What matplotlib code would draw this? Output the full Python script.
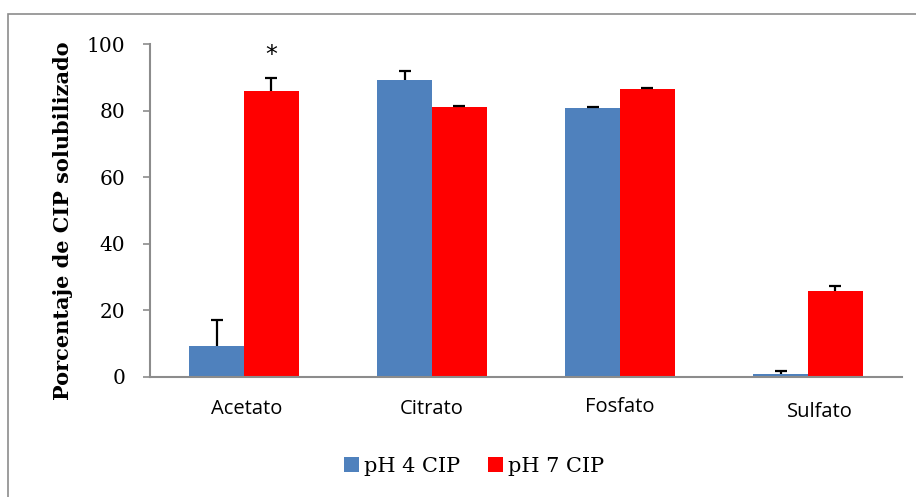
import matplotlib
matplotlib.use("Agg")
import matplotlib.pyplot as plt
from matplotlib.patches import Rectangle
from matplotlib.transforms import ScaledTranslation
import numpy as np

categories = ["Acetato", "Citrato", "Fosfato", "Sulfato"]
ph4_values = [9.3, 89.2, 80.9, 0.9]
ph4_errors = [7.8, 2.8, 0.3, 0.8]
ph7_values = [85.9, 81.1, 86.4, 25.8]
ph7_errors = [3.9, 0.3, 0.3, 1.6]
series_labels = ["pH 4 CIP", "pH 7 CIP"]
y_ticks = [0, 20, 40, 60, 80, 100]
star_category = 0

W, H = 916, 497
fig = plt.figure(figsize=(W / 100, H / 100), dpi=100)

# outer chart frame (only top & left visible in the reference)
fig.patches.append(Rectangle((8 / W, -0.1), 1.2, 1 - 14 / H + 0.1, transform=fig.transFigure,
                             fill=False, edgecolor="#8c8c8c", linewidth=1.2))

ax_left, ax_right = 150 / W, 902 / W
ax_bottom, ax_top = 1 - 377 / H, 1 - 44 / H
ax = fig.add_axes([ax_left, ax_bottom, ax_right - ax_left, ax_top - ax_bottom])

x = np.arange(len(categories))
bw = 0.29
blue = "#4F81BD"
red = "#FF0000"
ekw = dict(ecolor="black", elinewidth=1.6, capthick=1.6)

ax.bar(x - bw / 2, ph4_values, width=bw, color=blue, label=series_labels[0], zorder=2)
ax.bar(x + bw / 2, ph7_values, width=bw, color=red, label=series_labels[1], zorder=2)
for xs, vals, errs in [(x - bw / 2, ph4_values, ph4_errors), (x + bw / 2, ph7_values, ph7_errors)]:
    eb = ax.errorbar(xs, vals, yerr=[np.zeros(len(xs)), errs], fmt="none",
                     capsize=4.3, zorder=3, **ekw)
    caplines = eb.lines[1]
    caplines[0].set_visible(False)  # hide the lower caps

ax.text(x[star_category] + bw / 2,
        ph7_values[star_category] + ph7_errors[star_category] + 6.8, "*",
        ha="center", va="center", fontsize=17, family="DejaVu Sans", color="black")

ax.set_xlim(-0.5, len(categories) - 0.5)
ax.set_ylim(0, 100)
ax.set_yticks(y_ticks)
ax.set_yticklabels([str(t) for t in y_ticks], family="DejaVu Serif", fontsize=14.5)
ax.set_xticks(x)
ax.set_xticklabels(categories, family="Open Sans", fontsize=14.5)
ax.tick_params(axis="x", length=0, pad=16)
ax.tick_params(axis="y", length=5, width=1.2, color="#8c8c8c", pad=13)

# small per-label nudges as in the reference
nudges = [(0.03, 0.0), (0.0, 0.0), (0.0, 0.02), (0.12, -0.03)]
for lab, (dx, dy) in zip(ax.get_xticklabels(), nudges):
    lab.set_transform(lab.get_transform() + ScaledTranslation(dx, dy, fig.dpi_scale_trans))

for s in ["top", "right"]:
    ax.spines[s].set_visible(False)
for s in ["left", "bottom"]:
    ax.spines[s].set_color("#8c8c8c")
    ax.spines[s].set_linewidth(1.5)

ax.set_ylabel("Porcentaje de CIP solubilizado", family="DejaVu Serif", fontweight="bold",
              fontsize=15)
ax.yaxis.set_label_coords(-(150 - 73) / (902 - 150), (377 - 221) / (377 - 44))

leg = fig.legend(loc="center", bbox_to_anchor=(474 / W, 1 - 466 / H), ncol=2, frameon=False,
                 prop={"family": "DejaVu Serif", "size": 15}, handlelength=0.75, handleheight=0.75,
                 handletextpad=0.25, columnspacing=1.3)

fig.savefig("out.png", dpi=100)
